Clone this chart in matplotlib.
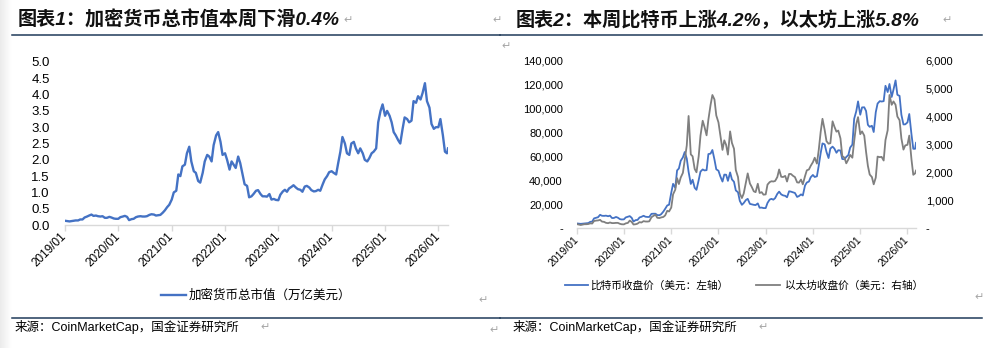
import numpy as np
import pandas as pd
import matplotlib
matplotlib.use("Agg")
import matplotlib.pyplot as plt
import matplotlib.dates as mdates
from matplotlib.lines import Line2D
from matplotlib.ticker import FuncFormatter, MultipleLocator

plt.rcParams["font.family"] = ["Liberation Sans", "Noto Sans CJK SC", "DejaVu Sans"]

# semi-monthly observation dates, last point is the latest weekly close
DATES = list(pd.date_range("2019-01-01", "2026-03-01", freq="SMS")) + [pd.Timestamp("2026-03-08")]

# total crypto market cap, trillion USD
TOTAL_CAP = [
    0.13, 0.12, 0.11, 0.12, 0.13, 0.14, 0.14, 0.17, 0.17, 0.23, 0.26, 0.29, 0.32, 0.28, 0.29, 0.27, 0.26, 0.27, 0.22, 0.22, 0.25, 0.23, 0.20, 0.19,
    0.19, 0.24, 0.26, 0.28, 0.25, 0.15, 0.18, 0.19, 0.24, 0.26, 0.27, 0.26, 0.26, 0.27, 0.31, 0.33, 0.32, 0.29, 0.30, 0.31, 0.38, 0.45, 0.55, 0.62,
    0.78, 1.00, 1.05, 1.55, 1.50, 1.80, 1.85, 2.20, 2.40, 1.95, 1.65, 1.60, 1.35, 1.30, 1.60, 1.95, 2.15, 2.10, 1.95, 2.45, 2.75, 2.85, 2.55, 2.15,
    2.20, 2.00, 1.70, 1.95, 1.85, 1.75, 2.10, 1.90, 1.55, 1.25, 1.20, 0.85, 0.88, 0.95, 1.05, 1.07, 0.95, 0.88, 0.88, 0.87, 0.95, 0.78, 0.80, 0.77,
    0.76, 0.93, 1.03, 1.08, 1.02, 1.12, 1.17, 1.22, 1.15, 1.10, 1.08, 1.02, 1.18, 1.20, 1.15, 1.07, 1.03, 1.04, 1.08, 1.05, 1.25, 1.40, 1.50, 1.62,
    1.65, 1.60, 1.55, 1.90, 2.25, 2.70, 2.50, 2.20, 2.15, 2.50, 2.55, 2.35, 2.20, 2.35, 2.20, 2.00, 1.95, 2.05, 2.20, 2.25, 2.35, 3.15, 3.50, 3.70,
    3.35, 3.50, 3.35, 3.15, 2.85, 2.75, 2.60, 2.50, 2.95, 3.30, 3.25, 3.15, 3.20, 3.80, 3.75, 3.95, 3.85, 4.05, 4.35, 3.80, 3.60, 3.10, 2.95, 3.00,
    3.00, 3.25, 2.75, 2.25, 2.20, 2.35,
]

# BTC close, USD (left axis)
BTC = [
    3800, 3600, 3450, 3600, 3800, 3900, 4100, 5100, 5350, 8000, 8550, 9000, 11000, 10200, 10100, 10300, 9800, 10300, 8300, 8350, 9200, 8600, 7400, 7100,
    7200, 8800, 9400, 9900, 8500, 5400, 6600, 6700, 8800, 9300, 10200, 9400, 9200, 9200, 11800, 11900, 11900, 10800, 10600, 11500, 13700, 16000, 18800, 19400,
    29400, 36800, 33500, 48000, 49600, 56000, 58900, 63300, 57800, 46800, 36700, 40200, 33500, 31800, 39900, 47000, 48800, 48000, 48200, 61600, 62000, 65000, 57000, 48900,
    47700, 43100, 38700, 44500, 44400, 39300, 46300, 40500, 38500, 31300, 29800, 22600, 19300, 20800, 23300, 24300, 20100, 19700, 19300, 19100, 20500, 16900, 17000, 16600,
    16600, 20900, 23700, 24300, 23600, 24900, 28500, 30300, 28000, 27200, 26800, 25600, 30600, 30300, 29700, 29200, 25900, 26600, 28000, 27100, 35400, 37900, 38700, 42300,
    44200, 42500, 43100, 51900, 62400, 70500, 69700, 63400, 58300, 66200, 67800, 66200, 62700, 64800, 64600, 57500, 57300, 59200, 60800, 67000, 69500, 91000, 97200, 105500,
    94400, 100500, 100600, 97500, 86000, 84300, 85200, 80000, 96500, 103700, 105700, 105400, 105700, 118500, 113300, 120000, 109200, 115300, 123000, 111000, 110100, 94400, 86300, 86400,
    88000, 95000, 78000, 66000, 66000, 71000,
]

# ETH close, USD (right axis)
ETH = [
    140, 125, 107, 122, 135, 135, 142, 165, 160, 250, 265, 270, 290, 230, 218, 185, 172, 197, 175, 175, 183, 183, 150, 133,
    130, 165, 183, 265, 218, 125, 135, 155, 210, 195, 245, 232, 230, 238, 385, 430, 475, 365, 355, 377, 395, 450, 615, 590,
    730, 1200, 1370, 1780, 1570, 1800, 1970, 2430, 2950, 4000, 2630, 2560, 2110, 1990, 2560, 3300, 3830, 3610, 3310, 3870, 4400, 4750, 4590, 4020,
    3770, 3330, 2790, 3130, 2970, 2620, 3450, 3040, 2830, 2070, 1820, 1230, 1070, 1230, 1630, 1950, 1590, 1470, 1310, 1280, 1580, 1250, 1280, 1190,
    1200, 1550, 1640, 1670, 1660, 1680, 1820, 2090, 1830, 1820, 1860, 1660, 1930, 1930, 1860, 1820, 1630, 1620, 1730, 1560, 1850, 2060, 2090, 2220,
    2350, 2510, 2300, 2780, 3430, 3900, 3500, 3100, 3010, 3030, 3810, 3620, 3440, 3480, 3200, 2570, 2510, 2310, 2450, 2610, 2510, 3100, 3710, 3960,
    3350, 3450, 3300, 2720, 2220, 1910, 1820, 1560, 1800, 2550, 2530, 2540, 2410, 3140, 3490, 4750, 4400, 4520, 4400, 3980, 3850, 3200, 2800, 2950,
    2970, 3300, 2450, 1900, 1950, 2050,
]

TITLE_1 = "图表1：加密货币总市值本周下滑0.4%"
TITLE_2 = "图表2：本周比特币上涨4.2%，以太坊上涨5.8%"
LEGEND_1 = "加密货币总市值（万亿美元）"
LEGEND_BTC = "比特币收盘价（美元：左轴）"
LEGEND_ETH = "以太坊收盘价（美元：右轴）"
SOURCE = "来源：CoinMarketCap，国金证券研究所"

BLUE = "#4472C4"
GREY = "#7F7F7F"
AXIS = "#D9D9D9"
RULE = "#1F3B5A"
MARK = "#A6A6A6"

W, H = 987, 348


def fx(px):
    return px / W


def fy(py):
    return 1 - py / H


def style_date_axis(ax, size):
    for side in ["top", "right", "left"]:
        ax.spines[side].set_visible(False)
    ax.spines["bottom"].set_color(AXIS)
    ax.spines["bottom"].set_linewidth(1.0)
    ax.xaxis.set_major_locator(mdates.YearLocator())
    ax.xaxis.set_major_formatter(mdates.DateFormatter("%Y/%m"))
    ax.tick_params(axis="x", colors=AXIS, length=4, width=1, direction="out")
    ax.tick_params(axis="y", length=0)
    for lab in ax.get_xticklabels():
        lab.set_rotation(45)
        lab.set_ha("right")
        lab.set_va("center")
        lab.set_rotation_mode("anchor")
        lab.set_color("black")
        lab.set_fontsize(size)
    ax.set_xlim(DATES[0], DATES[-1])
    ax.patch.set_alpha(0)


def thousands(v, pos):
    if v == 0:
        return "-"
    return f"{v:,.0f}"


fig = plt.figure(figsize=(W / 100, H / 100), dpi=100)

# faint shading on the page's left edge
shade = fig.add_axes([0, 0, fx(12), 1])
shade.imshow(np.linspace(0.92, 1.0, 50).reshape(1, -1), cmap="gray", vmin=0, vmax=1, aspect="auto")
shade.axis("off")

# ---- chart 1: total market cap ----
ax1 = fig.add_axes([fx(65), fy(225), fx(448) - fx(65), fy(62) - fy(225)])
ax1.plot(DATES, TOTAL_CAP, color=BLUE, lw=1.7, label=LEGEND_1)
ax1.set_ylim(0, 5)
ax1.yaxis.set_major_locator(MultipleLocator(0.5))
ax1.yaxis.set_major_formatter(FuncFormatter(lambda v, p: f"{v:.1f}"))
style_date_axis(ax1, 8.5)
ax1.tick_params(axis="y", labelsize=9.5, pad=11)
ax1.tick_params(axis="x", pad=3)
ax1.legend(loc="center", bbox_to_anchor=(fx(256), fy(296)), bbox_transform=fig.transFigure,
           frameon=False, fontsize=9, handlelength=2.0, handletextpad=0.2)

# ---- chart 2: BTC / ETH ----
ax2 = fig.add_axes([fx(576.7), fy(228), fx(916) - fx(576.7), fy(60) - fy(228)])
ax3 = ax2.twinx()
l_btc, = ax2.plot(DATES, BTC, color=BLUE, lw=1.3, label=LEGEND_BTC)
l_eth, = ax3.plot(DATES, ETH, color=GREY, lw=1.3, label=LEGEND_ETH)
ax2.set_ylim(0, 140000)
ax2.yaxis.set_major_locator(MultipleLocator(20000))
ax2.yaxis.set_major_formatter(FuncFormatter(thousands))
ax3.set_ylim(0, 6000)
ax3.yaxis.set_major_locator(MultipleLocator(1000))
ax3.yaxis.set_major_formatter(FuncFormatter(thousands))
style_date_axis(ax2, 7.5)
ax2.tick_params(axis="y", labelsize=8, pad=10)
ax2.tick_params(axis="x", pad=3)
for side in ["top", "left", "right", "bottom"]:
    ax3.spines[side].set_visible(False)
ax3.tick_params(axis="y", length=0, labelsize=8, pad=7)
ax3.legend([l_btc, l_eth], [LEGEND_BTC, " " + LEGEND_ETH], loc="center", ncol=2,
           bbox_to_anchor=(fx(744), fy(286)), bbox_transform=fig.transFigure,
           frameon=False, fontsize=7.7, handlelength=2.2, handletextpad=0.2, columnspacing=2.6)

# ---- titles, rules, source ----
title_kw = dict(fontsize=13.8, fontweight="bold", style="italic", va="center", ha="left", color="#111111")
fig.text(fx(18), fy(20), TITLE_1, **title_kw)
fig.text(fx(516), fy(20), TITLE_2, **title_kw)

for x0, x1 in [(12, 500), (500, 982)]:
    fig.add_artist(Line2D([fx(x0), fx(x1)], [fy(34.5)] * 2, color=RULE, lw=1.1))
    fig.add_artist(Line2D([fx(x0), fx(x1)], [fy(317.5)] * 2, color=RULE, lw=1.1))

src_kw = dict(fontsize=9, va="center", ha="left", color="black")
fig.text(fx(15), fy(327), SOURCE, **src_kw)
fig.text(fx(513), fy(327), SOURCE, **src_kw)

# word-processor paragraph marks
for px, py in [(343, 20), (492, 20), (942, 20), (501, 46), (478, 300), (974, 297), (260, 327), (758, 327), (489, 330)]:
    fig.text(fx(px), fy(py), "\u21b5", fontsize=8, color=MARK, va="center", ha="left",
             family=["DejaVu Sans"])

fig.savefig("out.png", dpi=100)
